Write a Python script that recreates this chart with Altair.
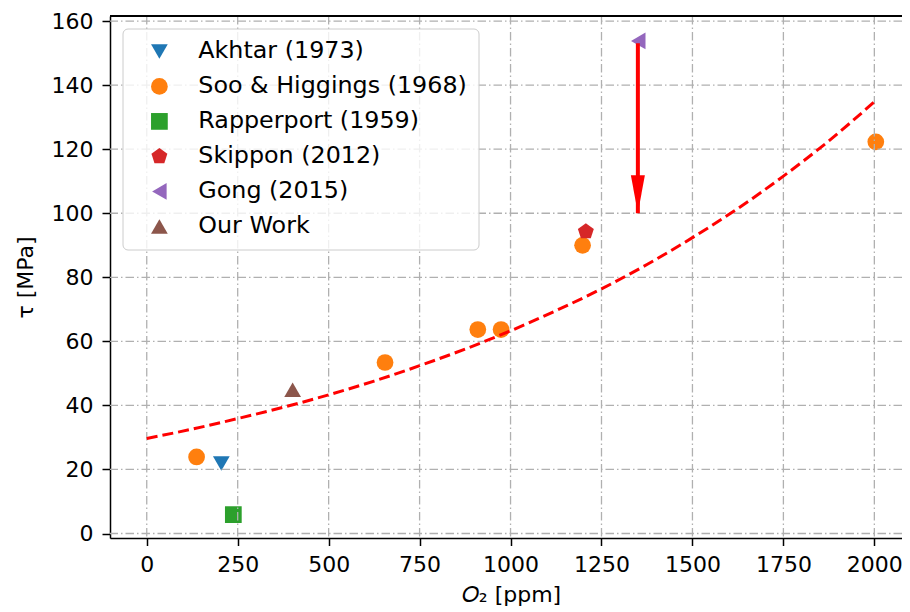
import altair as alt
import pandas as pd

# ---------------- data ----------------
series_names = ["Akhtar (1973)", "Soo & Higgings (1968)", "Rapperport (1959)",
                "Skippon (2012)", "Gong (2015)", "Our Work"]
series_colors = ["#1f77b4", "#ff7f0e", "#2ca02c", "#d62728", "#9467bd", "#8c564b"]
pentagon = "M0,-1L0.951,-0.309L0.588,0.809L-0.588,0.809L-0.951,-0.309Z"
series_shapes = ["triangle-down", "circle", "square", pentagon, "triangle-left", "triangle-up"]

akhtar_x = [205]
akhtar_y = [21.9]
soo_x = [137, 655, 910, 974, 1198, 2004]
soo_y = [23.9, 53.4, 63.7, 63.7, 90.0, 122.3]
rapperport_x = [238]
rapperport_y = [5.9]
skippon_x = [1207]
skippon_y = [94.3]
gong_x = [1351]
gong_y = [153.8]
ours_x = [401]
ours_y = [44.9]

fit_x = [0, 125, 250, 375, 500, 625, 750, 875, 1000, 1125, 1250, 1375, 1500,
         1625, 1750, 1875, 2000]
fit_y = [29.7, 32.6, 35.9, 39.4, 43.3, 47.6, 52.4, 57.6, 63.3, 69.6, 76.4, 84.0,
         92.4, 101.5, 111.6, 122.6, 134.8]

arrow_x = [1350]
arrow_top = [153.1]
arrow_tip = [100.0]

x_ticks = [0, 250, 500, 750, 1000, 1250, 1500, 1750, 2000]
y_ticks = [0, 20, 40, 60, 80, 100, 120, 140, 160]

# ---------------- tables ----------------
rows = []
for name, xs, ys in [
    (series_names[0], akhtar_x, akhtar_y),
    (series_names[1], soo_x, soo_y),
    (series_names[2], rapperport_x, rapperport_y),
    (series_names[3], skippon_x, skippon_y),
    (series_names[4], gong_x, gong_y),
    (series_names[5], ours_x, ours_y),
]:
    for xv, yv in zip(xs, ys):
        rows.append({"series": name, "x": xv, "y": yv})
pts = pd.DataFrame(rows)
fit = pd.DataFrame({"x": fit_x, "y": fit_y})
arrow = pd.DataFrame({"x": arrow_x, "y": arrow_top, "y2": arrow_tip})
head = pd.DataFrame({"x": arrow_x, "y": arrow_tip})
xg = pd.DataFrame({"x": x_ticks})
yg = pd.DataFrame({"y": y_ticks})

FONT = "DejaVu Sans"
W, H = 792, 522

xscale = alt.Scale(domain=[-101, -101 + W / 0.3638], nice=False, zero=False)
yscale = alt.Scale(domain=[-1.4, 161.6], nice=False, zero=False)

xaxis = alt.Axis(values=x_ticks, title="𝑂₂ [ppm]", grid=False, format="d",
                 labelFontSize=22, titleFontSize=22, labelFont=FONT, titleFont=FONT,
                 labelColor="black", titleColor="black", titleFontWeight="normal",
                 tickColor="black", tickWidth=1.5, tickSize=7.5, labelPadding=9,
                 domainColor="black", domainWidth=1.5, titlePadding=9, titleX=401,
                 labelFlush=False)
yaxis = alt.Axis(values=y_ticks, title="τ [MPa]", grid=False, format="d",
                 labelFontSize=22, titleFontSize=22, labelFont=FONT, titleFont=FONT,
                 labelColor="black", titleColor="black", titleFontWeight="normal",
                 tickColor="black", tickWidth=1.5, tickSize=8, labelPadding=9,
                 domainColor="black", domainWidth=1.5, titlePadding=14,
                 labelFlush=False)


def X(f="x"):
    return alt.X(f, type="quantitative", scale=xscale, axis=xaxis)


def Y(f="y"):
    return alt.Y(f, type="quantitative", scale=yscale, axis=yaxis)


grid_style = dict(color="#b0b0b0", strokeWidth=1.3, strokeDash=[8.5, 3, 1.5, 3])

points = alt.Chart(pts).mark_point(filled=True, size=280, opacity=1).encode(
    x=X(), y=Y(),
    color=alt.Color("series:N", scale=alt.Scale(domain=series_names, range=series_colors),
                    legend=alt.Legend(title=None, orient="none", legendX=12.5, legendY=12.5,
                                      fillColor="rgba(255,255,255,0.8)",
                                      strokeColor="#cccccc", cornerRadius=5, padding=11,
                                      labelFontSize=23.8, labelFont=FONT, labelColor="black",
                                      labelLimit=0,
                                      symbolSize=280, symbolOffset=14, labelOffset=27,
                                      rowPadding=10, symbolStrokeWidth=0, symbolOpacity=1)),
    shape=alt.Shape("series:N", scale=alt.Scale(domain=series_names, range=series_shapes)),
)

xgrid = alt.Chart(xg).mark_rule(**grid_style).encode(x=X())
ygrid = alt.Chart(yg).mark_rule(**grid_style).encode(y=Y())

line = alt.Chart(fit).mark_line(color="red", strokeWidth=3, strokeDash=[11, 5],
                                interpolate="monotone").encode(x=X(), y=Y())

shaft = alt.Chart(arrow).mark_rule(color="red", strokeWidth=4).encode(
    x=X(), y=Y(), y2="y2:Q")
arrowhead = alt.Chart(head).mark_point(
    shape="M-0.368,-2L0.368,-2L0,0Z", filled=True, color="red", size=1444, opacity=1
).encode(x=X(), y=Y())

top_spine = alt.Chart(xg).mark_rule(color="black", strokeWidth=1.5).encode(
    y=alt.value(0), x=alt.value(0), x2=alt.value(W))

chart = alt.layer(points, xgrid, ygrid, line, shaft, arrowhead, top_spine).properties(
    width=W, height=H,
    autosize=alt.AutoSizeParams(type="none"),
    padding={"left": 102, "top": 8, "right": 0, "bottom": 74},
).configure_view(stroke=None).configure(font=FONT)

chart.save("out.html", embed_options={"renderer": "svg", "actions": False})
